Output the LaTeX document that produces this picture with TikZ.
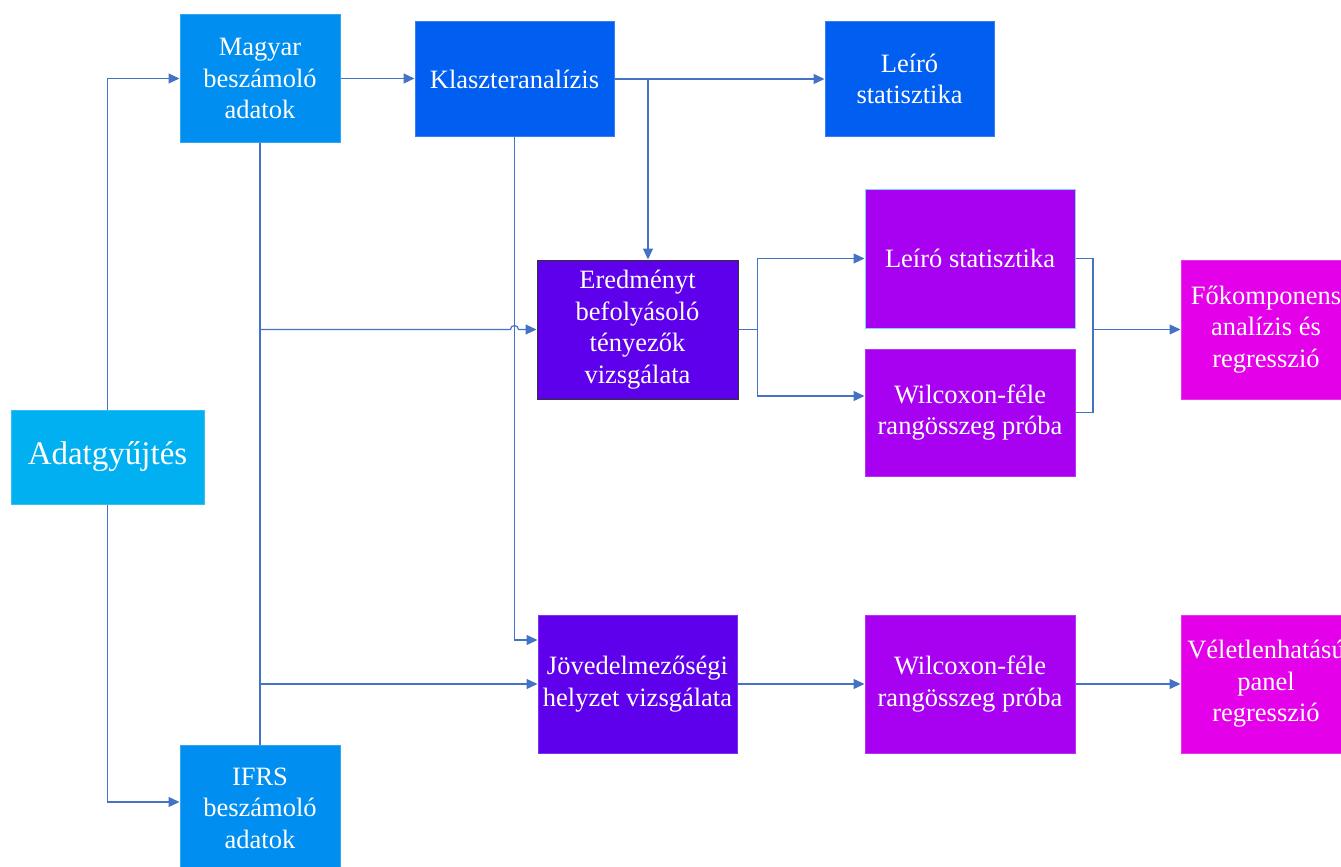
\documentclass[tikz,border=0pt]{standalone}
\usepackage{fontspec}
\setmainfont{Liberation Serif}
\usetikzlibrary{arrows.meta}
\definecolor{cAdat}{RGB}{0,176,240}
\definecolor{cSrc}{RGB}{0,142,240}
\definecolor{cBlue}{RGB}{0,94,240}
\definecolor{cViolet}{RGB}{94,0,236}
\definecolor{cPurple}{RGB}{168,0,240}
\definecolor{cMag}{RGB}{228,0,232}
\definecolor{cLine}{RGB}{68,114,196}
\tikzset{
  box/.style={inner sep=0pt, text=white, align=center, line width=1pt,
    font=\fontsize{26.5}{31.5}\selectfont},
  line/.style={draw=cLine, line width=1.2pt},
  conn/.style={line, -{Triangle[length=11pt,width=10pt]}}
}
\begin{document}
\begin{tikzpicture}[x=1pt,y=-1pt]
\useasboundingbox (0,0) rectangle (1341,867);
\clip (0,0) rectangle (1341,867);
% nodes
\node[box, fill=cAdat, draw=cAdat!80!white, minimum width=193pt, minimum height=94pt,
      font=\fontsize{33}{38}\selectfont] (adat) at (107.5,457) {Adatgyűjtés};
\node[box, fill=cSrc, draw=cSrc!80!white, minimum width=160pt, minimum height=127pt] (magyar) at (260,78.5) {Magyar\\beszámoló\\adatok};
\node[box, fill=cSrc, draw=cSrc!80!white, minimum width=160pt, minimum height=126pt] (ifrs) at (260,808) {IFRS\\beszámoló\\adatok};
\node[box, fill=cBlue, draw=cBlue!80!white, minimum width=199pt, minimum height=114pt] (klaszter) at (514.5,79) {Klaszteranalízis};
\node[box, fill=cBlue, draw=cBlue!80!white, minimum width=169pt, minimum height=114pt] (leiro1) at (909.5,79) {Leíró\\statisztika};
\node[box, fill=cViolet, draw=black!80, minimum width=201pt, minimum height=139pt] (ered) at (637.5,329.5) {Eredményt\\befolyásoló\\tényezők\\vizsgálata};
\node[box, fill=cViolet, draw=cViolet!80!white, minimum width=199pt, minimum height=138pt] (jov) at (637.5,684) {Jövedelmezőségi\\helyzet vizsgálata};
\node[box, fill=cPurple, draw=cyan!50!white, minimum width=210pt, minimum height=139pt] (leiro2) at (970,258.5) {Leíró statisztika};
\node[box, fill=cPurple, draw=cPurple!80!white, minimum width=210pt, minimum height=127pt] (wil1) at (970,412.5) {Wilcoxon-féle\\rangösszeg próba};
\node[box, fill=cPurple, draw=cPurple!80!white, minimum width=210pt, minimum height=138pt] (wil2) at (970,684) {Wilcoxon-féle\\rangösszeg próba};
\node[box, fill=cMag, draw=cMag!80!white, minimum width=170pt, minimum height=139pt] (fok) at (1266,329.5) {Főkomponens\\analízis és\\regresszió};
\node[box, fill=cMag, draw=cMag!80!white, minimum width=170pt, minimum height=138pt] (vel) at (1266,684) {Véletlenhatású\\panel\\regresszió};
% helper coordinates
\coordinate (ifrsIn) at ([yshift=6pt]ifrs.west);
\coordinate (k1) at ([xshift=10.5pt]ered.north);
\coordinate (kv) at (klaszter.south |- ered.west);
\coordinate (hopL) at ([xshift=-4pt]kv);
\coordinate (j1) at ([yshift=44pt]jov.west);
\coordinate (w1) at ([yshift=16.5pt]wil1.west);
\coordinate (mj) at (1093,329.5);
% connectors
\draw[conn] (adat.north) |- (magyar.west);
\draw[conn] (adat.south) |- (ifrsIn);
\draw[conn] (magyar.east) -- (klaszter.west |- magyar.east);
\draw[conn] (klaszter.east) -- (leiro1.west);
\draw[conn] (k1 |- klaszter.east) -- (k1);
\draw[line] (magyar.south) -- (ifrs.north);
\draw[conn] (magyar.south |- ered.west) -- (hopL) arc[start angle=180,end angle=0,radius=4pt] -- (ered.west);
\draw[conn] (magyar.south |- jov.west) -- (jov.west);
\draw[conn] (klaszter.south) |- (j1);
\draw[conn] (ered.east) -- ++(19,0) |- (leiro2.west);
\draw[conn] (ered.east) -- ++(19,0) |- (w1);
\draw[line] (leiro2.east) -| (mj) |- (wil1.east);
\draw[conn] (mj) -- (fok.west);
\draw[conn] (jov.east) -- (wil2.west);
\draw[conn] (wil2.east) -- (vel.west);
\end{tikzpicture}
\end{document}
